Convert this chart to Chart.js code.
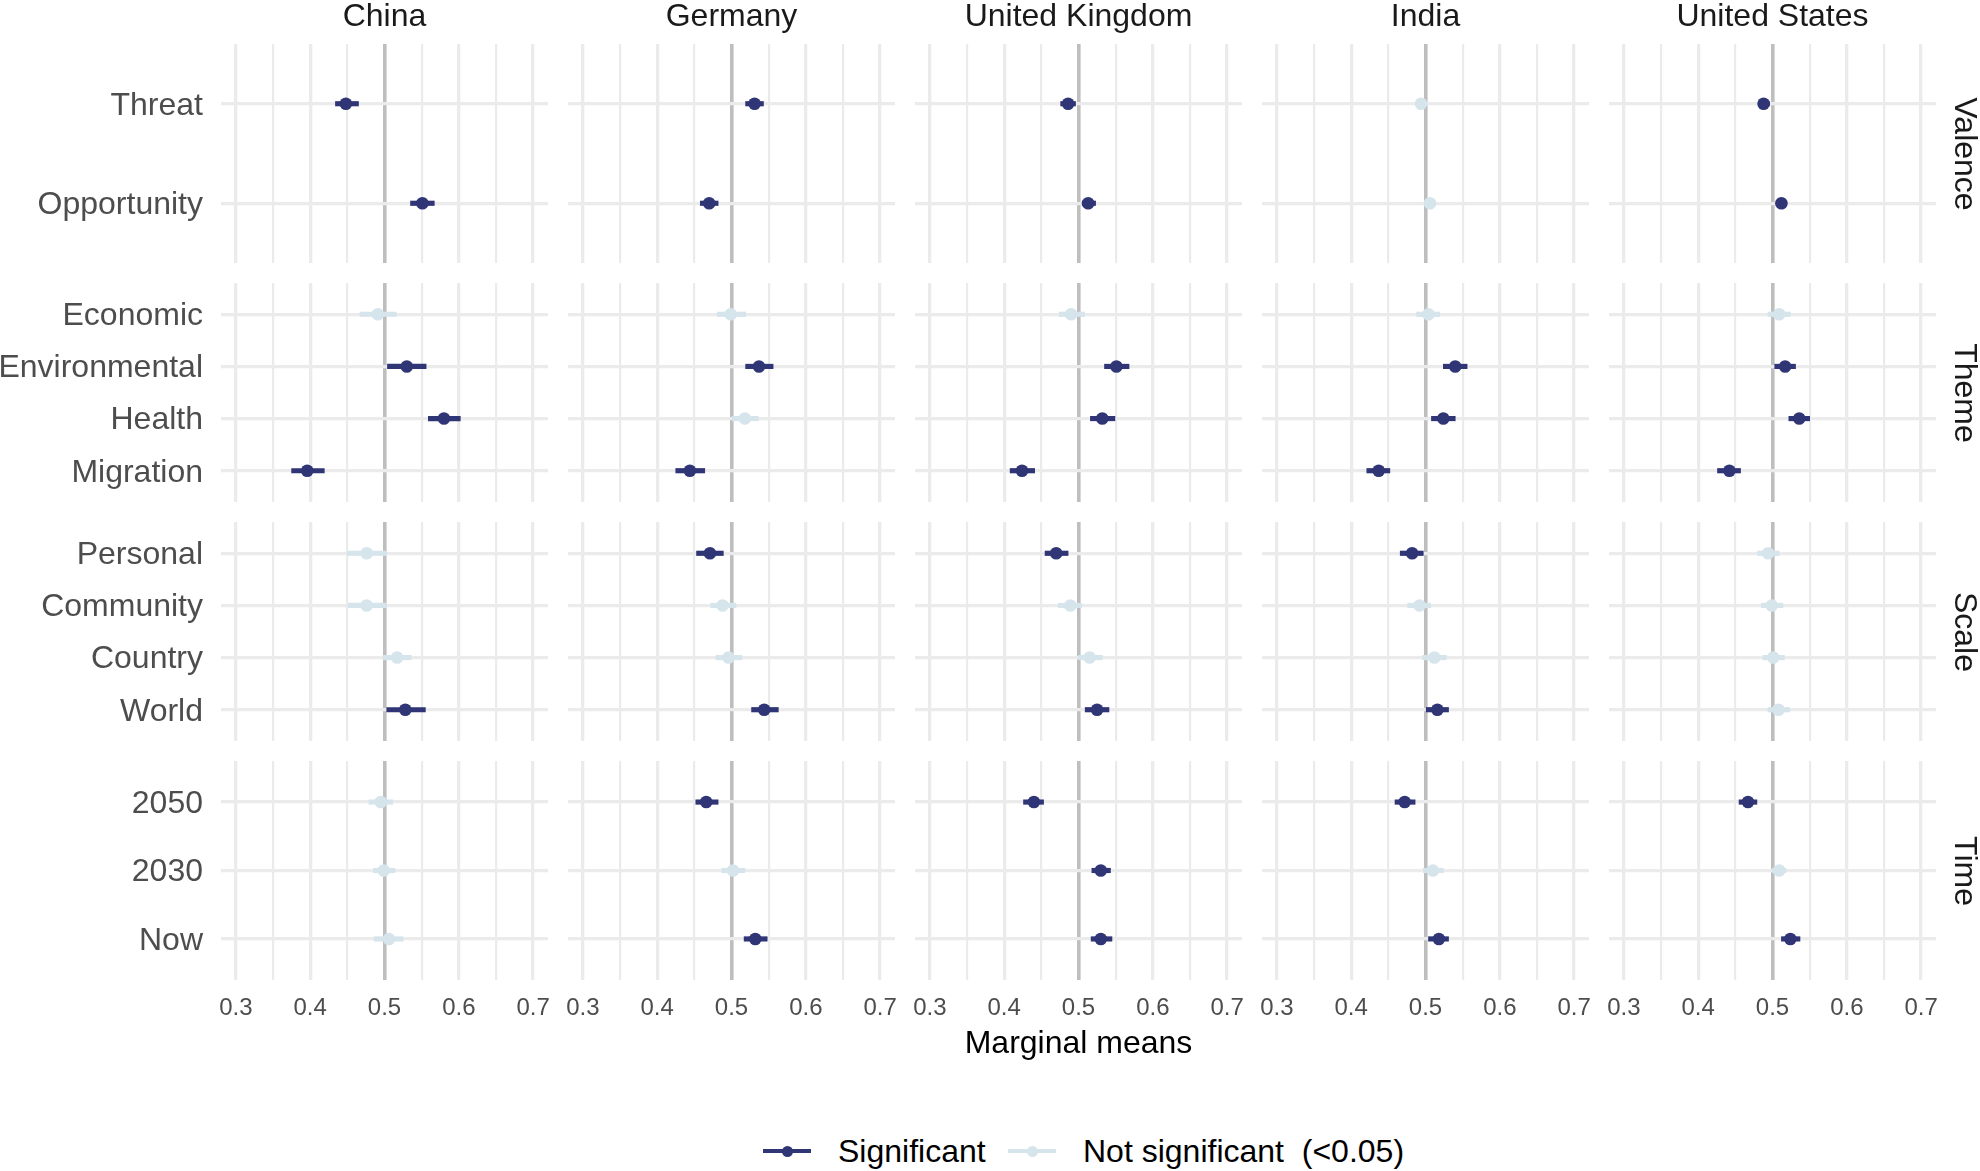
<!DOCTYPE html>
<html>
<head>
<meta charset="utf-8">
<script src="https://cdn.jsdelivr.net/npm/chart.js@4.4.1/dist/chart.umd.min.js"></script>
<style>
  html, body { margin: 0; padding: 0; background: #ffffff; }
  #root { position: relative; width: 1980px; height: 1171px; overflow: hidden; background: #ffffff;
          font-family: 'Liberation Sans', Arial, Helvetica, sans-serif; }
  #root canvas { position: absolute; }
  .txt { position: absolute; font-size: 32px; line-height: 36px; white-space: pre; color: #1A1A1A; }
  .strip-top { text-align: center; }
  .strip-right { text-align: center; transform-origin: 50% 50%; transform: rotate(90deg); }
  .lg-line { position: absolute; height: 4.5px; }
  .lg-dot { position: absolute; border-radius: 50%; }
</style>
</head>
<body>
<div id="root"></div>
<script>
// ---------------- DATA ----------------
const countries = ['China', 'Germany', 'United Kingdom', 'India', 'United States'];
const facets = ['Valence', 'Theme', 'Scale', 'Time'];

const valenceLevels = ['Threat', 'Opportunity'];
const themeLevels = ['Economic', 'Environmental', 'Health', 'Migration'];
const scaleLevels = ['Personal', 'Community', 'Country', 'World'];
const timeLevels = ['2050', '2030', 'Now'];

// order: Threat, Opportunity | Economic, Environmental, Health, Migration |
//        Personal, Community, Country, World | 2050, 2030, Now
const chinaEst = [0.448, 0.551, 0.491, 0.530, 0.580, 0.396, 0.476, 0.476, 0.517, 0.528, 0.495, 0.499, 0.506];
const chinaLo  = [0.434, 0.535, 0.467, 0.504, 0.559, 0.375, 0.450, 0.451, 0.498, 0.503, 0.479, 0.485, 0.486];
const chinaHi  = [0.465, 0.567, 0.516, 0.556, 0.602, 0.419, 0.503, 0.503, 0.536, 0.555, 0.511, 0.514, 0.525];
const chinaSig = [1, 1, 0, 1, 1, 1, 0, 0, 0, 1, 0, 0, 0];

const germanyEst = [0.531, 0.470, 0.499, 0.537, 0.518, 0.444, 0.471, 0.488, 0.496, 0.544, 0.466, 0.502, 0.532];
const germanyLo  = [0.519, 0.458, 0.481, 0.519, 0.501, 0.425, 0.453, 0.472, 0.479, 0.527, 0.452, 0.487, 0.517];
const germanyHi  = [0.543, 0.482, 0.519, 0.556, 0.536, 0.464, 0.489, 0.506, 0.514, 0.563, 0.482, 0.518, 0.548];
const germanySig = [1, 1, 0, 1, 0, 1, 1, 0, 0, 1, 1, 0, 1];

const ukEst = [0.486, 0.513, 0.490, 0.551, 0.532, 0.424, 0.470, 0.489, 0.515, 0.525, 0.440, 0.530, 0.530];
const ukLo  = [0.476, 0.505, 0.474, 0.535, 0.516, 0.408, 0.455, 0.473, 0.500, 0.509, 0.426, 0.518, 0.517];
const ukHi  = [0.496, 0.523, 0.508, 0.568, 0.549, 0.441, 0.486, 0.504, 0.532, 0.541, 0.453, 0.543, 0.545];
const ukSig = [1, 1, 0, 1, 1, 1, 1, 0, 0, 1, 1, 1, 1];

const indiaEst = [0.494, 0.506, 0.504, 0.540, 0.524, 0.437, 0.482, 0.492, 0.512, 0.516, 0.472, 0.510, 0.518];
const indiaLo  = [0.488, 0.500, 0.488, 0.524, 0.508, 0.421, 0.466, 0.476, 0.496, 0.501, 0.459, 0.497, 0.504];
const indiaHi  = [0.501, 0.513, 0.519, 0.556, 0.540, 0.452, 0.497, 0.507, 0.528, 0.531, 0.486, 0.524, 0.531];
const indiaSig = [0, 0, 0, 1, 1, 1, 1, 0, 0, 1, 1, 0, 1];

const usEst = [0.488, 0.512, 0.509, 0.517, 0.536, 0.442, 0.494, 0.499, 0.501, 0.508, 0.467, 0.509, 0.524];
const usLo  = [0.481, 0.505, 0.494, 0.503, 0.522, 0.426, 0.480, 0.485, 0.487, 0.494, 0.455, 0.500, 0.512];
const usHi  = [0.496, 0.519, 0.524, 0.531, 0.550, 0.457, 0.509, 0.514, 0.516, 0.523, 0.479, 0.518, 0.537];
const usSig = [1, 1, 0, 1, 1, 1, 0, 0, 0, 0, 1, 0, 1];

const xTicks = [0.3, 0.35, 0.4, 0.45, 0.5, 0.55, 0.6, 0.65, 0.7];
const xTickLabels = ['0.3', '', '0.4', '', '0.5', '', '0.6', '', '0.7'];
const referenceValue = 0.5;
const xMin = 0.28, xMax = 0.72;
const legendLabels = ['Significant', 'Not significant  (<0.05)'];
const axisTitle = 'Marginal means';

// ---------------- STYLE / LAYOUT ----------------
const DARK = '#2F3575';
const LIGHT = '#D6E4EC';
const GRID = '#EBEBEB';
const REF = '#BEBEBE';
const FONT = "'Liberation Sans', Arial, Helvetica, sans-serif";

const colLeft0 = 221, colPitch = 347, panelW = 327;
const rowTop0 = 44, rowPitch = 239, panelH = 219;
const M = 45;          // canvas margin around each panel
const xAxisH = 45;     // reserved height for tick labels on bottom row

Chart.defaults.font.family = FONT;

const root = document.getElementById('root');

const rowLevels = [valenceLevels, themeLevels, scaleLevels, timeLevels];
const rowOffsets = [0, 2, 6, 10];
const estAll = [chinaEst, germanyEst, ukEst, indiaEst, usEst];
const loAll = [chinaLo, germanyLo, ukLo, indiaLo, usLo];
const hiAll = [chinaHi, germanyHi, ukHi, indiaHi, usHi];
const sigAll = [chinaSig, germanySig, ukSig, indiaSig, usSig];

function addText(text, cls, left, top, width, extra) {
  const d = document.createElement('div');
  d.className = 'txt ' + cls;
  d.textContent = text;
  d.style.left = left + 'px';
  d.style.top = top + 'px';
  if (width != null) d.style.width = width + 'px';
  if (extra) Object.assign(d.style, extra);
  root.appendChild(d);
  return d;
}

for (let r = 0; r < facets.length; r++) {
  const levels = rowLevels[r];
  const off = rowOffsets[r];
  const isBottom = r === facets.length - 1;
  for (let c = 0; c < countries.length; c++) {
    const isLeft = c === 0;
    const est = estAll[c], lo = loAll[c], hi = hiAll[c], sig = sigAll[c];
    const colors = levels.map((_, i) => sig[off + i] ? DARK : LIGHT);

    const panelLeft = colLeft0 + c * colPitch;
    const panelTop = rowTop0 + r * rowPitch;
    const canvas = document.createElement('canvas');
    const cLeft = isLeft ? 0 : panelLeft - M;
    const padLeft = isLeft ? 0 : M;
    const w = (isLeft ? panelLeft : M) + panelW + M;
    const h = M + panelH + M + (isBottom ? xAxisH : 0);
    canvas.width = w; canvas.height = h;
    canvas.style.left = cLeft + 'px';
    canvas.style.top = (panelTop - M) + 'px';
    canvas.style.width = w + 'px';
    canvas.style.height = h + 'px';
    root.appendChild(canvas);

    new Chart(canvas.getContext('2d'), {
      type: 'scatter',
      data: {
        datasets: [
          {
            type: 'bar',
            indexAxis: 'y',
            data: levels.map((_, i) => ({ y: i, x: [lo[off + i], hi[off + i]] })),
            backgroundColor: colors,
            borderWidth: 0,
            barThickness: 4.5,
            order: 2
          },
          {
            type: 'scatter',
            data: levels.map((_, i) => ({ x: est[off + i], y: i })),
            pointRadius: 6.3,
            pointHoverRadius: 6.3,
            pointBorderWidth: 0,
            pointBackgroundColor: colors,
            pointBorderColor: colors,
            order: 1
          }
        ]
      },
      options: {
        responsive: false,
        animation: false,
        events: [],
        layout: { padding: { left: padLeft, right: M, top: M, bottom: M } },
        plugins: { legend: { display: false }, tooltip: { enabled: false }, title: { display: false } },
        scales: {
          x: {
            type: 'linear',
            min: xMin, max: xMax,
            beginAtZero: false,
            offset: false,
            afterBuildTicks: s => { s.ticks = xTicks.map(v => ({ value: v })); },
            afterFit: s => { s.height = isBottom ? xAxisH : 0; },
            border: { display: false },
            grid: {
              drawTicks: false,
              offset: false,
              color: ctx => (ctx.tick && Math.abs(ctx.tick.value - referenceValue) < 1e-9) ? REF : GRID,
              lineWidth: ctx => {
                if (ctx.tick && Math.abs(ctx.tick.value - referenceValue) < 1e-9) return 3.6;
                return xTickLabels[ctx.index] !== '' ? 3.3 : 2.2;
              }
            },
            ticks: {
              display: isBottom,
              autoSkip: false,
              maxRotation: 0,
              minRotation: 0,
              padding: 13.6,
              color: '#4D4D4D',
              font: { size: 24, lineHeight: 1.2, family: FONT },
              callback: (v, i) => xTickLabels[i]
            }
          },
          y: {
            type: 'linear',
            reverse: true,
            min: -0.6,
            max: levels.length - 1 + 0.6,
            offset: false,
            afterBuildTicks: s => { s.ticks = levels.map((_, i) => ({ value: i })); },
            afterFit: s => { s.width = isLeft ? panelLeft : 0; },
            border: { display: false },
            grid: { drawTicks: false, offset: false, color: GRID, lineWidth: 3.3 },
            ticks: {
              display: isLeft,
              autoSkip: false,
              padding: 18,
              labelOffset: 2,
              color: '#4D4D4D',
              font: { size: 32, lineHeight: 1.2, family: FONT },
              callback: (v) => levels[Math.round(v)]
            }
          }
        }
      }
    });
  }
}

// Column strip labels (top)
for (let c = 0; c < countries.length; c++) {
  const left = colLeft0 + c * colPitch;
  addText(countries[c], 'strip-top', left - 40, -3, panelW + 80);
}
// Row strip labels (right, rotated)
for (let r = 0; r < facets.length; r++) {
  const cy = rowTop0 + r * rowPitch + panelH / 2;
  const boxW = panelH, boxH = 36;
  addText(facets[r], 'strip-right', 1965 - boxW / 2, cy - boxH / 2, boxW, { height: boxH + 'px' });
}
// Axis title
const plotCenter = (colLeft0 + colLeft0 + 4 * colPitch + panelW) / 2;
addText(axisTitle, 'strip-top', plotCenter - 300, 1024, 600, { color: '#000000' });

// Legend
function legendKey(x0, color) {
  const ln = document.createElement('div');
  ln.className = 'lg-line';
  ln.style.left = x0 + 'px'; ln.style.top = (1151 - 2.25) + 'px';
  ln.style.width = '48px'; ln.style.background = color;
  root.appendChild(ln);
  const dot = document.createElement('div');
  dot.className = 'lg-dot';
  dot.style.left = (x0 + 24 - 5.5) + 'px'; dot.style.top = (1151 - 5.5) + 'px';
  dot.style.width = '11px'; dot.style.height = '11px'; dot.style.background = color;
  root.appendChild(dot);
}
legendKey(763, DARK);
addText(legendLabels[0], '', 838, 1133, null, { color: '#000000' });
legendKey(1008, LIGHT);
addText(legendLabels[1], '', 1083, 1133, null, { color: '#000000' });
</script>
</body>
</html>
